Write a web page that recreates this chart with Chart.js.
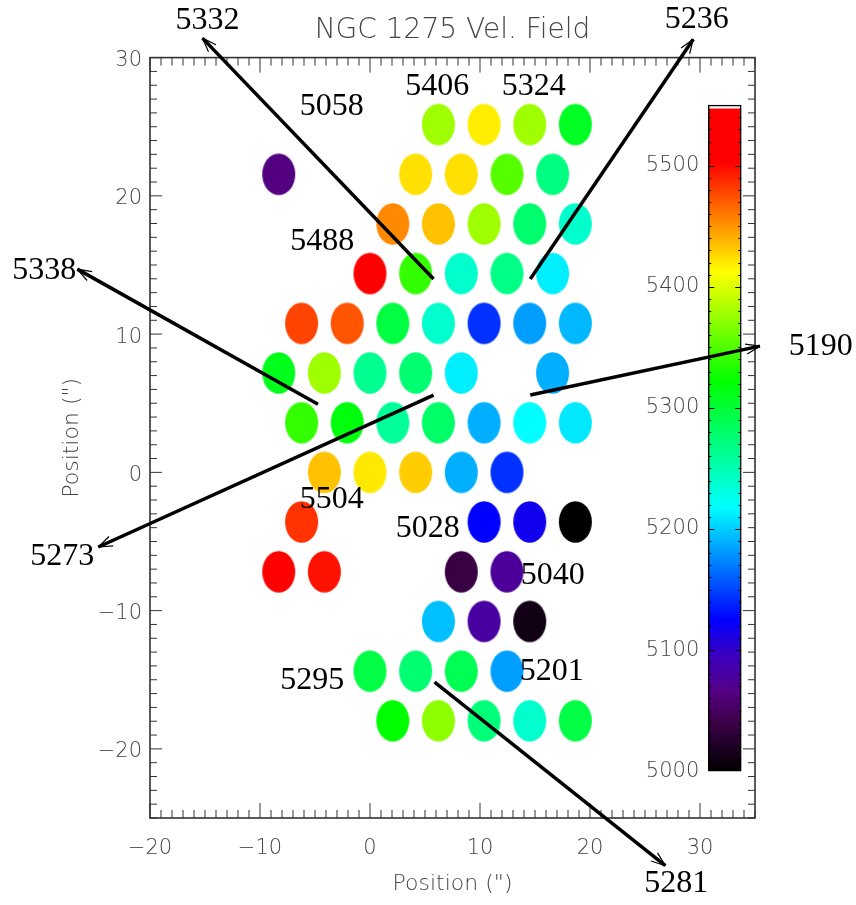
<!DOCTYPE html>
<html lang="en">
<head>
<meta charset="UTF-8">
<title>NGC 1275 Vel. Field</title>
<script src="https://cdn.jsdelivr.net/npm/chart.js"></script>
<style>
  body { margin: 0; padding: 0; background: #fff; }
  #chart { display: block; }
</style>
</head>
<body>
<canvas id="chart" width="856" height="905"></canvas>
<script>
// fibre centres (arcsec) and velocities (km/s), row by row from the top
const fiberX = [
  6.22, 10.37, 14.52, 18.67,
  -8.3, 4.15, 8.3, 12.45, 16.6,
  2.07, 6.22, 10.37, 14.52, 18.67,
  0, 4.15, 8.3, 12.45, 16.6,
  -6.22, -2.07, 2.07, 6.22, 10.37, 14.52, 18.67,
  -8.3, -4.15, 0, 4.15, 8.3, 16.6,
  -6.22, -2.07, 2.07, 6.22, 10.37, 14.52, 18.67,
  -4.15, 0, 4.15, 8.3, 12.45,
  -6.22, 10.37, 14.52, 18.67,
  -8.3, -4.15, 8.3, 12.45,
  6.22, 10.37, 14.52,
  0, 4.15, 8.3, 12.45,
  2.07, 6.22, 10.37, 14.52, 18.67
];
const fiberY = [
  25.16, 25.16, 25.16, 25.16,
  21.56, 21.56, 21.56, 21.56, 21.56,
  17.97, 17.97, 17.97, 17.97, 17.97,
  14.38, 14.38, 14.38, 14.38, 14.38,
  10.78, 10.78, 10.78, 10.78, 10.78, 10.78, 10.78,
  7.19, 7.19, 7.19, 7.19, 7.19, 7.19,
  3.59, 3.59, 3.59, 3.59, 3.59, 3.59, 3.59,
  0, 0, 0, 0, 0,
  -3.59, -3.59, -3.59, -3.59,
  -7.19, -7.19, -7.19, -7.19,
  -10.78, -10.78, -10.78,
  -14.38, -14.38, -14.38, -14.38,
  -17.97, -17.97, -17.97, -17.97, -17.97
];
const fiberVel = [
  5378, 5418, 5378, 5308,
  5064, 5423, 5423, 5352, 5270,
  5454, 5434, 5378, 5277, 5239,
  5515, 5340, 5239, 5267, 5212,
  5479, 5473, 5296, 5239, 5143, 5183, 5192,
  5311, 5378, 5263, 5276, 5212, 5189,
  5340, 5317, 5260, 5280, 5189, 5218, 5210,
  5434, 5420, 5430, 5189, 5143,
  5485, 5125, 5117, 5000,
  5515, 5497, 5038, 5076,
  5195, 5080, 5012,
  5294, 5276, 5288, 5183,
  5322, 5372, 5273, 5239, 5294
];
const fiberSize = 3; // fibre diameter, arcsec

// annotation arrows (tail at the fibre, head at the label)
const arrowTailX = [5.78, 14.57, -4.73, 14.57, 5.78, 5.87];
const arrowTailY = [13.98, 13.98, 4.92, 5.59, 5.59, -15.18];
const arrowHeadX = [-15.23, 29.39, -26.61, 35.45, -24.7, 26.85];
const arrowHeadY = [31.41, 31.33, 14.7, 9.13, -5.4, -28.45];

// annotation numbers
const labelText = ['5332', '5058', '5406', '5324', '5236', '5488', '5338', '5190',
                   '5273', '5504', '5028', '5040', '5295', '5201', '5281'];
const labelX = [-14.77, -3.47, 6.12, 14.89, 29.71, -4.34, -29.61, 40.98,
                -27.97, -3.47, 5.25, 16.62, -5.25, 16.53, 27.85];
const labelY = [32.71, 26.49, 27.93, 27.93, 32.78, 16.72, 14.62, 9.13,
                -6.12, -2.0, -4.1, -7.5, -15.09, -14.44, -29.77];

const xTicks = [-20, -10, 0, 10, 20, 30];
const yTicks = [-20, -10, 0, 10, 20, 30];
const cbTicks = [5000, 5100, 5200, 5300, 5400, 5500];
const cbRange = [5000, 5550];
const cbX = 32.25;

// colour table (rainbow + white)
const cmapVel = [5000, 5017, 5040, 5067, 5095, 5125, 5218, 5322, 5412, 5503, 5547, 5547.5, 5550];
const cmapRGB = [[0,0,0],[25,0,30],[60,0,70],[85,0,135],[60,0,190],[0,0,255],[0,255,255],
                 [0,255,0],[255,255,0],[255,0,0],[255,0,0],[255,255,255],[255,255,255]];

function velColor(v) {
  if (v <= cmapVel[0]) return 'rgb(' + cmapRGB[0].join(',') + ')';
  for (let i = 1; i < cmapVel.length; i++) {
    if (v <= cmapVel[i]) {
      const t = (v - cmapVel[i - 1]) / (cmapVel[i] - cmapVel[i - 1]);
      const a = cmapRGB[i - 1], b = cmapRGB[i];
      return 'rgb(' + a.map((c, k) => Math.round(c + (b[k] - c) * t)).join(',') + ')';
    }
  }
  return 'rgb(' + cmapRGB[cmapRGB.length - 1].join(',') + ')';
}

const sprites = {};
function fiberSprite(c) {
  if (!c.raw || !c.chart.scales.x) return 'circle';
  const xs = c.chart.scales.x, ys = c.chart.scales.y;
  const rx = Math.abs(xs.getPixelForValue(fiberSize / 2) - xs.getPixelForValue(0));
  const ry = Math.abs(ys.getPixelForValue(fiberSize / 2) - ys.getPixelForValue(0));
  const color = velColor(c.raw.v);
  const key = color + rx.toFixed(2) + ry.toFixed(2);
  if (!sprites[key]) {
    const cv = document.createElement('canvas');
    cv.width = Math.ceil(rx * 2) + 2;
    cv.height = Math.ceil(ry * 2) + 2;
    const g = cv.getContext('2d');
    g.fillStyle = color;
    g.beginPath();
    g.ellipse(cv.width / 2, cv.height / 2, rx, ry, 0, 0, Math.PI * 2);
    g.fill();
    sprites[key] = cv;
  }
  return sprites[key];
}

function cbGradient(c) {
  const s = c.chart.scales.cb;
  if (!s || s.bottom === undefined) return '#000';
  const y0 = s.getPixelForValue(cbRange[0]), y1 = s.getPixelForValue(cbRange[1]);
  const g = c.chart.ctx.createLinearGradient(0, y0, 0, y1);
  cmapVel.forEach((v, i) => {
    g.addColorStop((v - cbRange[0]) / (cbRange[1] - cbRange[0]), 'rgb(' + cmapRGB[i].join(',') + ')');
  });
  return g;
}

const labelFont = { family: 'DejaVu Sans', size: 21, weight: 300 };
const labelColor = '#444';
const minus = v => (v < 0 ? '\u2212' + Math.abs(v) : String(v));

const decorations = {
  id: 'decorations',
  beforeDatasetsDraw(chart) {
    const ctx = chart.ctx, a = chart.chartArea;
    const xs = chart.scales.x, ys = chart.scales.y;
    ctx.save();
    ctx.strokeStyle = '#333';
    ctx.lineWidth = 1;
    ctx.beginPath();
    for (let v = xs.min; v <= xs.max; v++) {
      const p = xs.getPixelForValue(v);
      const len = v % 10 === 0 ? 15 : 8;
      ctx.moveTo(p, a.bottom); ctx.lineTo(p, a.bottom - len);
      ctx.moveTo(p, a.top); ctx.lineTo(p, a.top + len);
    }
    for (let v = ys.min; v <= ys.max; v++) {
      const p = ys.getPixelForValue(v);
      const len = v % 10 === 0 ? 12 : 7;
      ctx.moveTo(a.left, p); ctx.lineTo(a.left + len, p);
      ctx.moveTo(a.right, p); ctx.lineTo(a.right - len, p);
    }
    ctx.stroke();
    ctx.lineWidth = 1.6;
    ctx.strokeRect(a.left, a.top, a.right - a.left, a.bottom - a.top);
    ctx.restore();
  },
  afterDatasetsDraw(chart) {
    const ctx = chart.ctx;
    const xs = chart.scales.x, ys = chart.scales.y, cb = chart.scales.cb;
    ctx.save();
    // colour bar ticks and numbers
    const bar = chart.getDatasetMeta(0).data[0];
    if (bar) {
      const left = bar.x - bar.width / 2, right = bar.x + bar.width / 2;
      ctx.strokeStyle = '#000';
      ctx.lineWidth = 1;
      ctx.beginPath();
      for (let v = cbRange[0] + 10; v < cbRange[1]; v += 10) {
        const p = Math.round(cb.getPixelForValue(v)) + 0.5;
        const len = v % 100 === 0 ? 6 : 3;
        ctx.moveTo(left, p); ctx.lineTo(left + len, p);
        ctx.moveTo(right, p); ctx.lineTo(right - len, p);
      }
      ctx.stroke();
      ctx.fillStyle = labelColor;
      ctx.font = labelFont.weight + ' ' + labelFont.size + 'px "' + labelFont.family + '"';
      ctx.textAlign = 'right';
      ctx.textBaseline = 'middle';
      cbTicks.forEach(v => ctx.fillText(String(v), left - 9, cb.getPixelForValue(v)));
    }
    // arrow heads
    ctx.strokeStyle = '#000';
    ctx.lineWidth = 1.2;
    arrowHeadX.forEach((hx, i) => {
      const x1 = xs.getPixelForValue(hx), y1 = ys.getPixelForValue(arrowHeadY[i]);
      const x0 = xs.getPixelForValue(arrowTailX[i]), y0 = ys.getPixelForValue(arrowTailY[i]);
      const ang = Math.atan2(y1 - y0, x1 - x0);
      ctx.beginPath();
      [-0.35, 0.35].forEach(d => {
        ctx.moveTo(x1, y1);
        ctx.lineTo(x1 - 15 * Math.cos(ang + d), y1 - 15 * Math.sin(ang + d));
      });
      ctx.stroke();
    });
    // numbers
    ctx.fillStyle = '#000';
    ctx.font = '32px "Liberation Serif"';
    ctx.textAlign = 'center';
    ctx.textBaseline = 'middle';
    labelText.forEach((t, i) => ctx.fillText(t, xs.getPixelForValue(labelX[i]), ys.getPixelForValue(labelY[i])));
    ctx.restore();
  }
};

const arrowSets = arrowTailX.map((tx, i) => ({
  type: 'scatter',
  showLine: true,
  data: [{ x: tx, y: arrowTailY[i] }, { x: arrowHeadX[i], y: arrowHeadY[i] }],
  borderColor: '#000',
  borderWidth: 3.5,
  pointRadius: 0,
  clip: false,
  order: 0
}));

new Chart(document.getElementById('chart'), {
  type: 'scatter',
  data: {
    datasets: [
      {
        type: 'bar',
        data: [{ x: cbX, y: cbRange }],
        yAxisID: 'cb',
        barThickness: 33,
        backgroundColor: cbGradient,
        borderColor: '#000',
        borderWidth: 1.5,
        borderSkipped: false,
        order: 1
      },
      {
        data: fiberX.map((x, i) => ({ x: x, y: fiberY[i], v: fiberVel[i] })),
        pointStyle: fiberSprite,
        pointRadius: 5,
        order: 2
      },
      ...arrowSets
    ]
  },
  options: {
    responsive: false,
    animation: false,
    events: [],
    layout: { padding: { right: 101 } },
    plugins: {
      legend: { display: false },
      tooltip: { enabled: false },
      title: {
        display: true,
        text: 'NGC 1275 Vel. Field',
        fullSize: false,
        color: labelColor,
        font: { family: 'DejaVu Sans', size: 28, weight: 300 },
        padding: { top: 14, bottom: 10 }
      }
    },
    scales: {
      x: {
        type: 'linear',
        min: -20,
        max: 35,
        offset: false,
        grid: { display: false, drawTicks: false, offset: false },
        border: { display: false },
        afterBuildTicks: s => { s.ticks = xTicks.map(v => ({ value: v })); },
        afterFit: s => { s.height = 87; },
        ticks: { color: labelColor, font: labelFont, padding: 18, maxRotation: 0, callback: minus },
        title: {
          display: true,
          text: 'Position (")',
          color: labelColor,
          font: { family: 'DejaVu Sans', size: 22, weight: 300 },
          padding: { top: 0, bottom: 8 }
        }
      },
      y: {
        type: 'linear',
        position: 'left',
        min: -25,
        max: 30,
        grid: { display: false, drawTicks: false },
        border: { display: false },
        afterBuildTicks: s => { s.ticks = yTicks.map(v => ({ value: v })); },
        afterFit: s => { s.width = 150; },
        ticks: { color: labelColor, font: labelFont, padding: 8, labelOffset: 3, callback: minus },
        title: {
          display: true,
          text: 'Position (")',
          color: labelColor,
          font: { family: 'DejaVu Sans', size: 22, weight: 300 },
          padding: { top: 59, bottom: 0 }
        }
      },
      cb: {
        type: 'linear',
        axis: 'y',
        position: 'right',
        display: false,
        min: 4961.3,
        max: 5589.3
      }
    }
  },
  plugins: [decorations]
});
</script>
</body>
</html>
